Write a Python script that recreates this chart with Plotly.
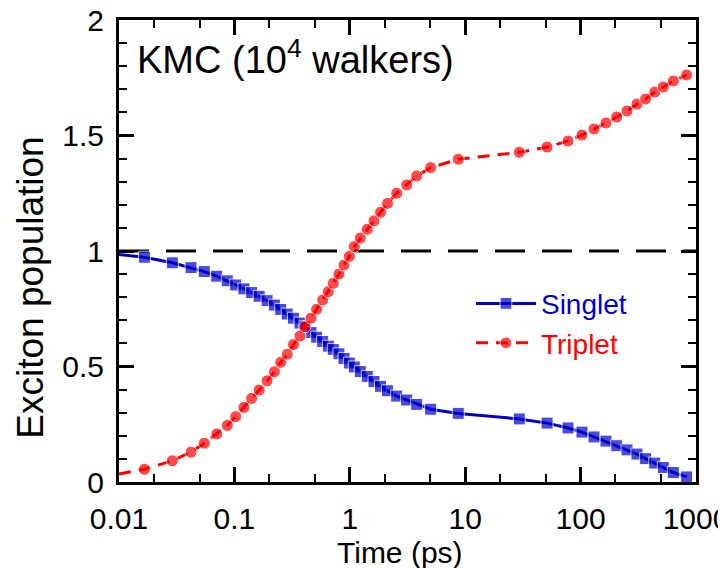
import plotly.graph_objects as go

# time points (ps), first entry is the curve start at the axis (no marker)
time_ps = [0.01, 0.0166, 0.029, 0.0421, 0.0548, 0.0703, 0.0867, 0.1026, 0.121, 0.141, 0.164,
           0.192, 0.222, 0.252, 0.287, 0.325, 0.370, 0.409, 0.461, 0.516, 0.582,
           0.652, 0.719, 0.805, 0.891, 0.991, 1.094, 1.233, 1.418, 1.621, 1.845,
           2.12, 2.55, 3.11, 3.80, 5.02, 8.71, 29.4, 51.2, 77.8, 102.8,
           130.7, 166, 205.6, 252.5, 308, 366, 439, 521, 636, 830]

singlet = [0.985, 0.973, 0.949, 0.928, 0.911, 0.891, 0.871, 0.853, 0.836, 0.820, 0.804,
           0.785, 0.766, 0.747, 0.727, 0.709, 0.688, 0.672, 0.647, 0.627, 0.608,
           0.588, 0.574, 0.555, 0.535, 0.515, 0.498, 0.478, 0.457, 0.435, 0.414,
           0.395, 0.372, 0.355, 0.336, 0.315, 0.297, 0.273, 0.255, 0.234, 0.216,
           0.195, 0.177, 0.157, 0.139, 0.121, 0.101, 0.082, 0.063, 0.041, 0.022]

triplet = [0.035, 0.055, 0.092, 0.129, 0.168, 0.208, 0.245, 0.283, 0.323, 0.362, 0.398,
           0.438, 0.477, 0.518, 0.553, 0.595, 0.632, 0.672, 0.709, 0.748, 0.788,
           0.824, 0.860, 0.900, 0.939, 0.977, 1.019, 1.056, 1.094, 1.131, 1.168,
           1.206, 1.250, 1.286, 1.325, 1.361, 1.397, 1.427, 1.450, 1.476, 1.502,
           1.528, 1.554, 1.580, 1.606, 1.636, 1.658, 1.688, 1.710, 1.736, 1.762]

ref_level = 1.0
x_range = [0.01, 1000]
y_range = [0, 2]
x_ticks = [0.01, 0.1, 1, 10, 100, 1000]
x_ticktext = ["0.01", "0.1", "1", "10", "100", "1000"]
y_ticks = [0, 0.5, 1, 1.5, 2]
y_ticktext = ["0", "0.5", "1", "1.5", "2"]

FONT = "Liberation Sans Narrow, Arial Narrow, Liberation Sans, Arial"
BLUE = "#0000cc"
RED = "#ff0000"

sizes = [0] + [12] * (len(time_ps) - 1)

fig = go.Figure()

# reference line at 1
fig.add_trace(go.Scatter(
    x=x_range, y=[ref_level, ref_level],
    mode="lines",
    line=dict(color="black", width=3, dash="30px,17px"),
    showlegend=False,
    hoverinfo="skip",
))

fig.add_trace(go.Scatter(
    x=time_ps, y=singlet,
    name=f"<span style='color:{BLUE}'>Singlet</span>",
    mode="lines+markers",
    line=dict(color=BLUE, width=3),
    marker=dict(symbol="square", size=sizes, color=BLUE),
))

fig.add_trace(go.Scatter(
    x=time_ps, y=triplet,
    name=f"<span style='color:{RED}'>Triplet</span>",
    mode="lines+markers",
    line=dict(color=RED, width=3, dash="12px,8px"),
    marker=dict(symbol="circle", size=sizes, color=RED),
))

axis_common = dict(
    showline=True,
    linecolor="black",
    linewidth=3,
    mirror="ticks",
    ticks="inside",
    ticklen=15,
    tickwidth=2.5,
    tickcolor="black",
    showgrid=False,
    zeroline=False,
    automargin=False,
    ticklabeloverflow="allow",
    tickfont=dict(family=FONT, size=30, color="black"),
)

fig.update_xaxes(
    type="log",
    range=[-2, 3],
    tickvals=x_ticks,
    ticktext=x_ticktext,
    ticklabelstandoff=8,
    minor=dict(ticks="inside", ticklen=8, tickwidth=2, tickcolor="black", showgrid=False),
    **axis_common,
)

fig.update_yaxes(
    range=y_range,
    tickvals=y_ticks,
    ticktext=y_ticktext,
    ticklabelstandoff=6,
    minor=dict(ticks="inside", ticklen=8, tickwidth=2, tickcolor="black", dtick=0.1, showgrid=False),
    **axis_common,
)

# axis titles and panel label
fig.add_annotation(
    text="Time (ps)", xref="paper", yref="paper",
    x=0.487, y=-0.153, xanchor="center", yanchor="middle",
    showarrow=False, font=dict(family=FONT, size=30, color="black"),
)
fig.add_annotation(
    text="Exciton population", xref="paper", yref="paper",
    x=-0.153, y=0.42, xanchor="center", yanchor="middle", textangle=-90,
    showarrow=False, font=dict(family=FONT, size=37, color="black"),
)
fig.add_annotation(
    text="KMC (10<sup>4</sup> walkers)",
    xref="paper", yref="paper",
    x=0.028, y=0.92,
    xanchor="left", yanchor="middle",
    showarrow=False,
    font=dict(family=FONT, size=38, color="black"),
)

# page body adds an 8px margin, so the figure is 8px smaller than the window
fig.update_layout(
    width=718,
    height=560,
    margin=dict(l=111, r=30, t=12, b=86),
    paper_bgcolor="white",
    plot_bgcolor="white",
    showlegend=True,
    legend=dict(
        x=0.61, y=0.44,
        xanchor="left", yanchor="top",
        bgcolor="rgba(0,0,0,0)",
        font=dict(family=FONT, size=28),
        itemwidth=60,
        tracegroupgap=0,
    ),
)

fig.write_html("out.html")
